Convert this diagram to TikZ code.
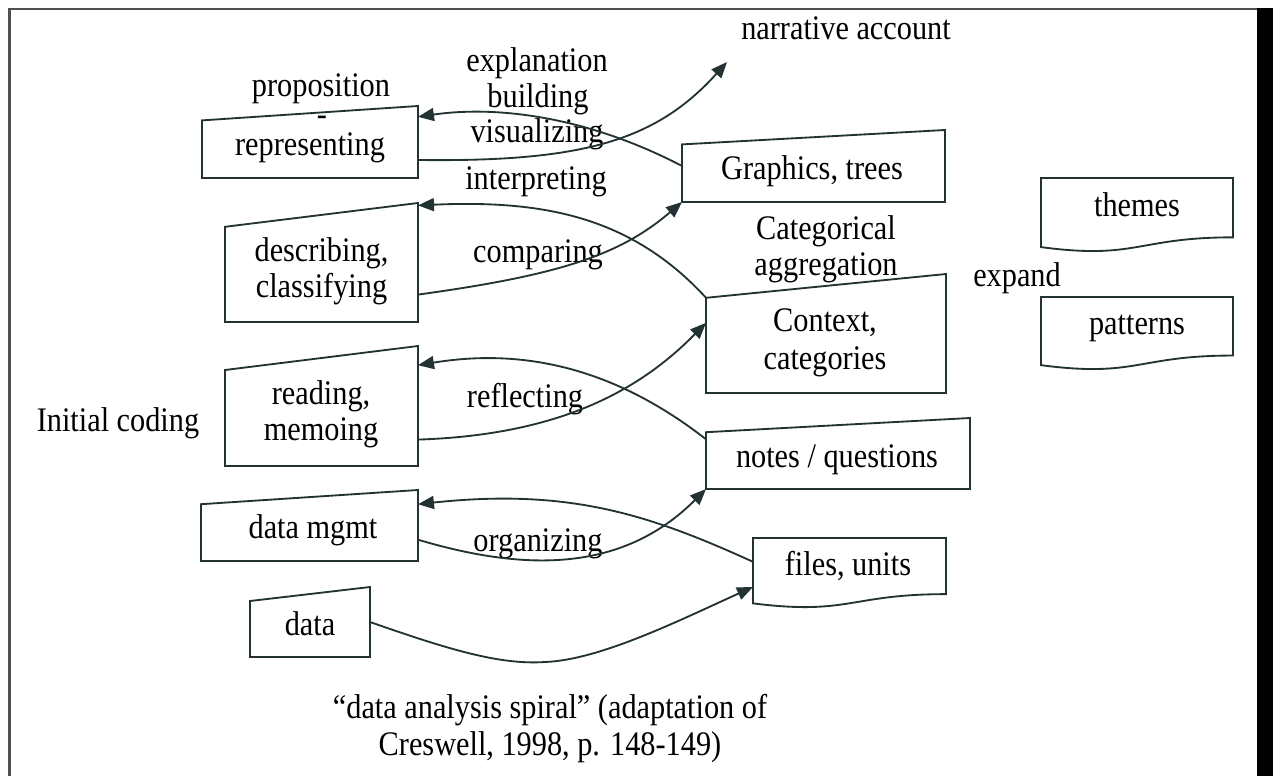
\documentclass[tikz,border=0pt]{standalone}
\usepackage{fontspec}
\setmainfont[FakeStretch=0.88]{Liberation Serif}
\usetikzlibrary{calc,arrows.meta}
\definecolor{ln}{RGB}{35,50,50}
\definecolor{frm}{RGB}{80,80,80}
\newcommand\mkmanual[1]{\draw[shp] (#1.south west) -- ($(#1.north west)!0.2!(#1.south west)$) -- (#1.north east) -- (#1.south east) -- cycle;}
\newcommand\mkdoc[1]{\draw[shp] (#1.north west) -- (#1.north east) -- ($(#1.north east)!0.802!(#1.south east)$) .. controls ($(#1.north)!0.802!(#1.south)$) and ($(#1.north)!1.107!(#1.south)$) .. ($(#1.north west)!0.934!(#1.south west)$) -- cycle;}
\begin{document}
\begin{tikzpicture}[x=0.02cm,y=-0.02cm,
  box/.style={inner sep=0pt,outer sep=0pt,draw=none},
  shp/.style={draw=ln,line width=1.05pt,line join=miter},
  conn/.style={draw=ln,line width=1.05pt,-{Triangle[length=0.32cm,width=0.26cm]}},
  txt/.style={font=\fontsize{19.6}{22}\selectfont,inner sep=0pt,anchor=base}]
\useasboundingbox (0,0) rectangle (1277,776);
% frame
\fill[frm] (8,8) rectangle (10.5,776);
\fill[frm] (8,8) rectangle (1257,10.5);
\fill[black] (1257,8) rectangle (1273,776);
% boxes
\node[box,minimum width=4.32cm,minimum height=1.44cm] (rep) at (310,142) {};
\node[box,minimum width=5.26cm,minimum height=1.44cm] (graph) at (813.5,166) {};
\node[box,minimum width=3.86cm,minimum height=2.38cm] (desc) at (321.5,262.5) {};
\node[box,minimum width=4.80cm,minimum height=2.38cm] (ctx) at (826,333.5) {};
\node[box,minimum width=3.86cm,minimum height=2.40cm] (read) at (321.5,406) {};
\node[box,minimum width=5.28cm,minimum height=1.42cm] (notes) at (838,453.5) {};
\node[box,minimum width=4.34cm,minimum height=1.42cm] (dm) at (309.5,525.5) {};
\node[box,minimum width=2.40cm,minimum height=1.40cm] (data) at (310,622) {};
\node[box,minimum width=3.84cm,minimum height=1.48cm] (themes) at (1137,215) {};
\node[box,minimum width=3.84cm,minimum height=1.46cm] (patterns) at (1137,333.5) {};
\node[box,minimum width=3.86cm,minimum height=1.40cm] (files) at (849.5,573) {};
\mkmanual{rep}\mkmanual{graph}\mkmanual{desc}\mkmanual{ctx}
\mkmanual{read}\mkmanual{notes}\mkmanual{dm}\mkmanual{data}
\mkdoc{themes}\mkdoc{patterns}\mkdoc{files}
% texts
\node[txt] (t-narr) at (846,40) {narrative account};
\node[txt] (t-prop1) at (321,97) {proposition};
\node[txt] (t-prop2) at (322,126) {-};
\node[txt] (t-prop3) at (310,156) {representing};
\node[txt] (t-expl1) at (537,72) {explanation};
\node[txt] (t-expl2) at (538,108) {building};
\node[txt] (t-vis) at (537,143) {visualizing};
\node[txt] (t-interp) at (536,190) {interpreting};
\node[txt] (t-graph) at (812,180) {Graphics, trees};
\node[txt] (t-desc1) at (321.5,262) {describing,};
\node[txt] (t-desc2) at (321.5,298) {classifying};
\node[txt] (t-comp) at (538,263) {comparing};
\node[txt] (t-cat1) at (826,240) {Categorical};
\node[txt] (t-cat2) at (826,276) {aggregation};
\node[txt] (t-ctx1) at (825,332) {Context,};
\node[txt] (t-ctx2) at (825,370) {categories};
\node[txt] (t-exp) at (1017,287) {expand};
\node[txt] (t-themes) at (1137,217) {themes};
\node[txt] (t-patt) at (1137,335) {patterns};
\node[txt] (t-init) at (118,432) {Initial coding};
\node[txt] (t-read1) at (321,405) {reading,};
\node[txt] (t-read2) at (321,440) {memoing};
\node[txt] (t-refl) at (525,408) {reflecting};
\node[txt] (t-notes) at (837,467) {notes / questions};
\node[txt] (t-dm) at (313,538) {data mgmt};
\node[txt] (t-org) at (538,551) {organizing};
\node[txt] (t-files) at (848,575) {files, units};
\node[txt] (t-data) at (310,635) {data};
\node[txt] (t-cap1) at (550,718) {“data analysis spiral” (adaptation of};
\node[txt] (t-cap2) at (550,755) {Creswell, 1998, p. 148-149)};
\coordinate (narrtip) at (727,62);
% connectors
\draw[conn] (graph.west) .. controls (590,118) and (500,105) .. ($(rep.north east)!0.15!(rep.south east)$);
\draw[conn] ($(rep.north east)!0.75!(rep.south east)$) .. controls (580,162) and (655,142) .. (narrtip);
\draw[conn] ($(ctx.north west)!0.2!(ctx.south west)$) .. controls (630,215) and (540,200) .. ($(desc.north east)!0.02!(desc.south east)$);
\draw[conn] ($(desc.north east)!0.77!(desc.south east)$) .. controls (560,275) and (620,255) .. (graph.south west);
\draw[conn] ($(notes.north west)!0.3!(notes.south west)$) .. controls (630,380) and (540,345) .. ($(read.north east)!0.16!(read.south east)$);
\draw[conn] ($(read.north east)!0.78!(read.south east)$) .. controls (560,435) and (640,390) .. ($(ctx.north west)!0.41!(ctx.south west)$);
\draw[conn] ($(files.north west)!0.34!(files.south west)$) .. controls (650,515) and (570,488) .. ($(dm.north east)!0.2!(dm.south east)$);
\draw[conn] ($(dm.north east)!0.7!(dm.south east)$) .. controls (520,570) and (620,575) .. (notes.south west);
\draw[conn] (data.east) .. controls (450,650) and (500,665) .. (545,662) .. controls (600,660) and (680,620) .. ($(files.north west)!0.7!(files.south west)$);
\end{tikzpicture}
\end{document}
